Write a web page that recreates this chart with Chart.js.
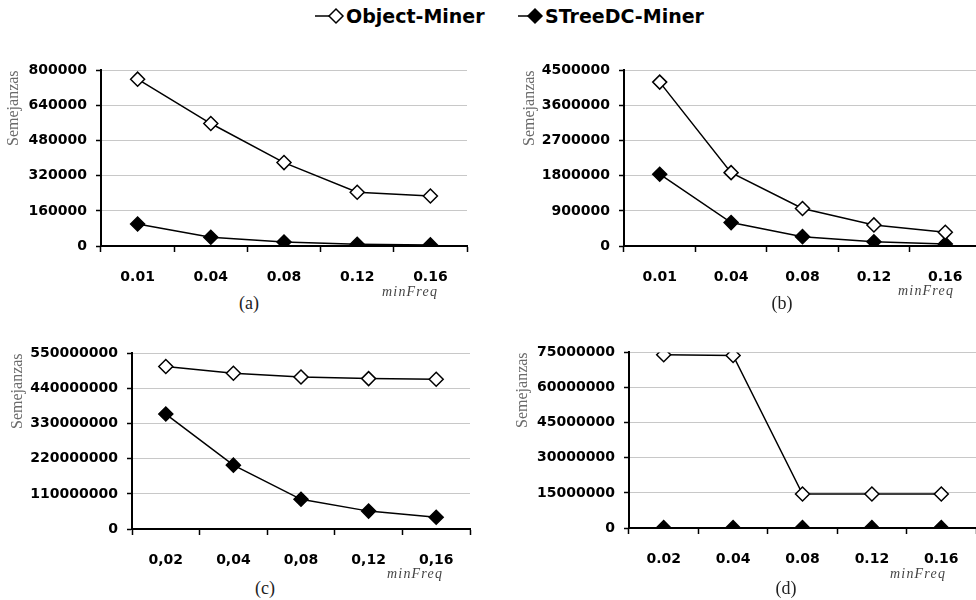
<!DOCTYPE html>
<html lang="es">
<head>
    <meta charset="UTF-8">
    <title>Semejanzas vs minFreq</title>
    <script src="https://cdn.jsdelivr.net/npm/chart.js@4.4.0/dist/chart.umd.min.js"></script>
    <style>
        body {
            margin: 0;
            background: #fff;
        }
        .page {
            position: relative;
            width: 976px;
            height: 600px;
            overflow: hidden;
            background: #fff;
        }
        .panel {
            position: absolute;
            width: 480px;
            height: 238px;
        }
        .legend {
            position: absolute;
            top: 5px;
            font-family: "DejaVu Sans", sans-serif;
            font-weight: bold;
            font-size: 19px;
            color: #000;
            display: flex;
            align-items: center;
            white-space: nowrap;
        }
        .legend svg { margin-right: 1px; }
        .sub {
            position: absolute;
            font-family: "Liberation Serif", serif;
            font-size: 18px;
            color: #222;
            transform: translate(-50%, -50%);
        }
        .freq {
            position: absolute;
            font-family: "Liberation Serif", serif;
            font-style: italic;
            font-size: 14px;
            letter-spacing: 1.2px;
            color: #444;
        }
    </style>
</head>
<body>
<div class="page">
    <!-- legend -->
    <div class="legend" style="left:315px">
        <svg width="30" height="18"><line x1="0" y1="9" x2="14" y2="9" stroke="#000" stroke-width="1.5"/><path d="M14 9 L21 2 L28 9 L21 16 Z" fill="#fff" stroke="#000" stroke-width="1.5"/></svg>Object-Miner
    </div>
    <div class="legend" style="left:518px">
        <svg width="26" height="18"><line x1="0" y1="9" x2="10" y2="9" stroke="#000" stroke-width="1.5"/><path d="M10 9 L17 2 L24 9 L17 16 Z" fill="#000" stroke="#000" stroke-width="1.5"/></svg>STreeDC-Miner
    </div>

    <div class="panel" style="left:4px;top:53px"><canvas id="chartA"></canvas></div>
    <div class="panel" style="left:520px;top:53px"><canvas id="chartB"></canvas></div>
    <div class="panel" style="left:8px;top:336px"><canvas id="chartC"></canvas></div>
    <div class="panel" style="left:513px;top:335px"><canvas id="chartD"></canvas></div>

    <div class="freq" style="left:382px;top:284px">minFreq</div>
    <div class="freq" style="left:898px;top:283px">minFreq</div>
    <div class="freq" style="left:387px;top:566px">minFreq</div>
    <div class="freq" style="left:890px;top:566px">minFreq</div>

    <div class="sub" style="left:249px;top:303px">(a)</div>
    <div class="sub" style="left:782px;top:303px">(b)</div>
    <div class="sub" style="left:265px;top:588px">(c)</div>
    <div class="sub" style="left:786px;top:588px">(d)</div>
</div>

<script>
    // categories (minFreq)
    const freqA = ['0.01', '0.04', '0.08', '0.12', '0.16'];
    const freqB = ['0.01', '0.04', '0.08', '0.12', '0.16'];
    const freqC = ['0,02', '0,04', '0,08', '0,12', '0,16'];
    const freqD = ['0.02', '0.04', '0.08', '0.12', '0.16'];

    // Object-Miner
    const objectA = [760000, 558000, 380000, 245000, 228000];
    const objectB = [4200000, 1880000, 960000, 540000, 350000];
    const objectC = [509000000, 488000000, 476000000, 471000000, 469000000];
    const objectD = [74000000, 73700000, 14500000, 14500000, 14500000];

    // STreeDC-Miner
    const streeA = [100000, 40000, 18000, 8000, 5000];
    const streeB = [1840000, 600000, 240000, 110000, 50000];
    const streeC = [360000000, 200000000, 93000000, 56000000, 37000000];
    const streeD = [150000, 150000, 150000, 150000, 150000];

    // y axis: max and step for each panel
    const yMax = [800000, 4500000, 550000000, 75000000];
    const yStep = [160000, 900000, 110000000, 15000000];

    const tickFont = { family: 'DejaVu Sans', size: 14, weight: 'bold' };

    function makeChart(id, labels, objVals, streeVals, max, step, yWidth, padRight) {
        return new Chart(document.getElementById(id), {
            type: 'line',
            data: {
                labels: labels,
                datasets: [{
                    label: 'Object-Miner',
                    data: objVals,
                    borderColor: '#000',
                    borderWidth: 1.5,
                    pointStyle: 'rectRot',
                    pointRadius: 7,
                    pointBorderWidth: 1.5,
                    pointBackgroundColor: '#fff',
                    pointBorderColor: '#000'
                }, {
                    label: 'STreeDC-Miner',
                    data: streeVals,
                    borderColor: '#000',
                    borderWidth: 1.5,
                    pointStyle: 'rectRot',
                    pointRadius: 7,
                    pointBorderWidth: 1.5,
                    pointBackgroundColor: '#000',
                    pointBorderColor: '#000'
                }]
            },
            options: {
                responsive: true,
                maintainAspectRatio: false,
                animation: false,
                devicePixelRatio: 1,
                layout: { padding: { top: 0, right: padRight, left: 0, bottom: 0 } },
                plugins: {
                    legend: { display: false },
                    tooltip: { enabled: false }
                },
                scales: {
                    x: {
                        offset: true,
                        grid: { offset: true, drawOnChartArea: false, tickColor: '#000', tickLength: 6, tickWidth: 1.5 },
                        border: { color: '#000', width: 2 },
                        ticks: { font: tickFont, color: '#000', padding: 17, maxRotation: 0, autoSkip: false },
                        afterFit: s => { s.height = 45; }
                    },
                    y: {
                        min: 0,
                        max: max,
                        ticks: { stepSize: step, font: tickFont, color: '#000', padding: 9, callback: v => String(v) },
                        grid: { color: '#c8c8c8', lineWidth: 1, tickColor: '#000', tickLength: 5, tickWidth: 1.5 },
                        border: { color: '#000', width: 2 },
                        title: {
                            display: true,
                            text: 'Semejanzas',
                            align: 'end',
                            font: { family: 'Liberation Serif', size: 16 },
                            color: '#6a6a6a',
                            padding: 0
                        },
                        afterFit: s => { s.width = yWidth; }
                    }
                }
            }
        });
    }

    makeChart('chartA', freqA, objectA, streeA, yMax[0], yStep[0], 97, 17);
    makeChart('chartB', freqB, objectB, streeB, yMax[1], yStep[1], 104, 19);
    makeChart('chartC', freqC, objectC, streeC, yMax[2], yStep[2], 124, 18);
    makeChart('chartD', freqD, objectD, streeD, yMax[3], yStep[3], 116, 17);
</script>
</body>
</html>
